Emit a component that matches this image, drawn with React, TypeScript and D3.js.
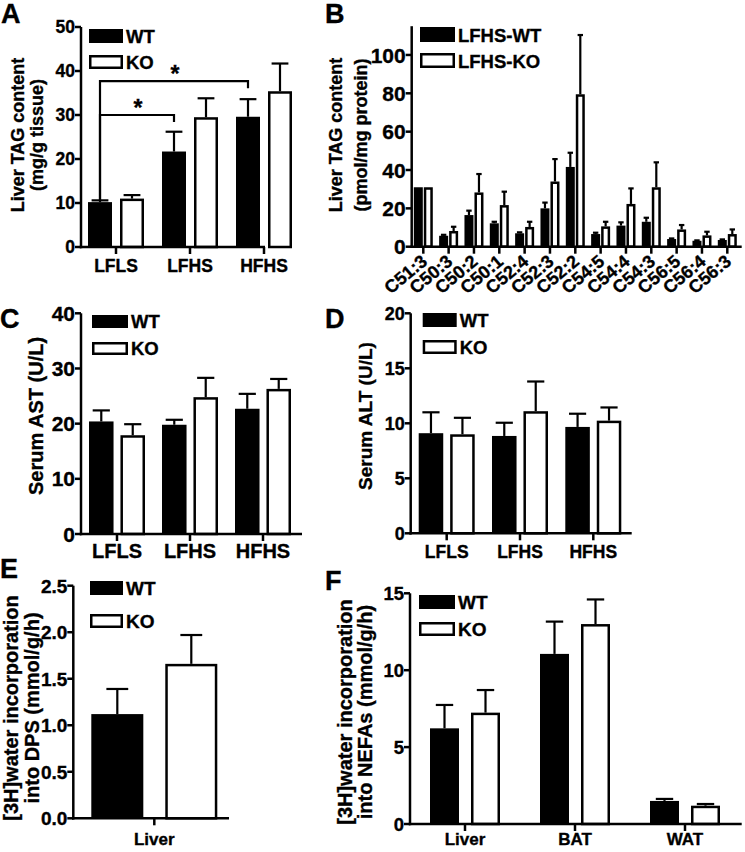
import React from 'react';
import * as d3 from 'd3';

const FONT = '"Liberation Sans", Arial, Helvetica, sans-serif';

// ---------- Data ----------
const dietGroups = ['LFLS', 'LFHS', 'HFHS'];

// A: Liver TAG content (mg/g tissue)
const tagWT = [10.2, 21.7, 29.6];
const tagWTErr = [0.4, 4.5, 4.0];
const tagKO = [11.0, 29.5, 35.4];
const tagKOErr = [0.8, 4.3, 6.3];
const tagBrackets = [
  { from: 'LFLS', to: 'LFHS', level: 30.0, label: '*' },
  { from: 'LFLS', to: 'HFHS', level: 37.7, label: '*' },
];

// B: Liver TAG species (pmol/mg protein)
const tagSpecies = ['C51:3', 'C50:3', 'C50:2', 'C50:1', 'C52:4', 'C52:3', 'C52:2', 'C54:5', 'C54:4', 'C54:3', 'C56:5', 'C56:4', 'C56:3'];
const speciesWT = [31, 5.7, 16.5, 12.2, 7.0, 20.0, 41.6, 6.6, 11.0, 13.0, 4.0, 3.1, 3.5];
const speciesWTErr = [0, 0.5, 2.3, 0.8, 0.5, 3.0, 7.4, 0.7, 1.7, 2.1, 0.3, 0.2, 0.3];
const speciesKO = [31, 8.2, 28.3, 21.7, 10.3, 34.0, 79.5, 10.6, 22.3, 31.0, 9.0, 5.9, 6.6];
const speciesKOErr = [0, 2.2, 9.6, 7.0, 2.7, 11.7, 30.9, 2.4, 8.1, 13.0, 2.3, 1.9, 2.4];

// C: Serum AST (U/L)
const astWT = [20.4, 19.8, 22.7];
const astWTErr = [2.0, 0.9, 2.7];
const astKO = [17.9, 24.8, 26.3];
const astKOErr = [2.0, 3.5, 1.8];

// D: Serum ALT (U/L)
const altWT = [9.1, 8.85, 9.67];
const altWTErr = [1.9, 1.2, 1.2];
const altKO = [9.0, 11.1, 10.24];
const altKOErr = [1.5, 2.7, 1.2];

// E: [3H]water into DPS
const dpsTissue = ['Liver'];
const dpsWT = [1.12];
const dpsWTErr = [0.27];
const dpsKO = [1.66];
const dpsKOErr = [0.31];

// F: [3H]water into NEFAs
const nefaTissues = ['Liver', 'BAT', 'WAT'];
const nefaWT = [6.22, 11.06, 1.5];
const nefaWTErr = [1.52, 2.1, 0.13];
const nefaKO = [7.24, 13.0, 1.19];
const nefaKOErr = [1.47, 1.6, 0.11];

const seriesKeys = ['WT', 'KO'];

type Legend = { x: number; y1: number; y2: number; w: number; h: number; labels: string[]; fs: number };
type Cfg = {
  letter: string; letterX: number; letterY: number;
  cats: string[]; wt: number[]; wtErr: number[]; ko: number[]; koErr: number[];
  yDomain: [number, number]; yRange: [number, number]; yTickCount: number; yFmt: string;
  axisX: number; xEnd: number; catRange: [number, number]; inner: [number, number]; innerPad: number;
  tickFs: number; xFs: number; xLabelDy: number; rotate?: boolean;
  titles: string[]; titleXs: number[]; titleY: number; titleFs: number;
  legend: Legend; capFrac: number;
  brackets?: { from: string; to: string; level: number; label: string }[];
};

const SW = 2.5;

function Panel({ cfg }: { cfg: Cfg }) {
  const y = d3.scaleLinear().domain(cfg.yDomain).range(cfg.yRange);
  const xc = d3.scalePoint<string>().domain(cfg.cats).range(cfg.catRange);
  const inner = d3.scaleBand<string>().domain(seriesKeys).range(cfg.inner).paddingInner(cfg.innerPad);
  const bw = inner.bandwidth();
  const y0 = y(0);
  const fmt = d3.format(cfg.yFmt);
  const ticks = y.ticks(cfg.yTickCount);
  const cap = bw * cfg.capFrac;

  const bars: any[] = [];
  cfg.cats.forEach((c, i) => {
    bars.push({ key: 'WT', cat: c, v: cfg.wt[i], e: cfg.wtErr[i] });
    bars.push({ key: 'KO', cat: c, v: cfg.ko[i], e: cfg.koErr[i] });
  });

  const wtCenter = (c: string) => (xc(c) as number) + (inner('WT') as number) + bw / 2;

  return (
    <g fontFamily={FONT} fontWeight="bold">
      <text x={cfg.letterX} y={cfg.letterY} fontSize={27}>{cfg.letter}</text>
      {/* y title */}
      {cfg.titles.map((t, i) => (
        <text key={t} transform={`translate(${cfg.titleXs[i]},${cfg.titleY}) rotate(-90)`} textAnchor="middle" fontSize={cfg.titleFs}>{t}</text>
      ))}
      {/* error bars */}
      {bars.map((b, i) => {
        if (!b.e) return null;
        const cx = (xc(b.cat) as number) + (inner(b.key) as number) + bw / 2;
        return (
          <g key={'e' + i} stroke="#000" strokeWidth={2.2}>
            <line x1={cx} x2={cx} y1={y(b.v)} y2={y(b.v + b.e)} />
            <line x1={cx - cap / 2} x2={cx + cap / 2} y1={y(b.v + b.e)} y2={y(b.v + b.e)} />
          </g>
        );
      })}
      {/* bars */}
      {bars.map((b, i) => {
        const x = (xc(b.cat) as number) + (inner(b.key) as number);
        if (b.key === 'WT') {
          return <rect key={'b' + i} x={x} y={y(b.v)} width={bw} height={y0 - y(b.v)} fill="#000" stroke="none" />;
        }
        return (
          <rect key={'b' + i} x={x + SW / 2} y={y(b.v) + SW / 2} width={bw - SW} height={y0 - y(b.v) - SW / 2}
            fill="#fff" stroke="#000" strokeWidth={SW} />
        );
      })}
      {/* brackets */}
      {(cfg.brackets || []).map((br, i) => {
        const x1 = wtCenter(br.from);
        const x2 = wtCenter(br.to);
        const fi = cfg.cats.indexOf(br.from);
        const yl = y(br.level);
        const yLeft = y(cfg.wt[fi] + cfg.wtErr[fi]);
        const yRight = y(br.level - 1.6);
        return (
          <g key={'br' + i}>
            <path d={`M${x1},${yLeft}V${yl}H${x2}V${yRight}`} fill="none" stroke="#000" strokeWidth={2.2} />
            <text x={(x1 + x2) / 2 + 1} y={yl + 1} textAnchor="middle" fontSize={23}>{br.label}</text>
          </g>
        );
      })}
      {/* y axis */}
      <line x1={cfg.axisX} x2={cfg.axisX} y1={y0 + SW / 2} y2={cfg.yRange[1]} stroke="#000" strokeWidth={SW} />
      {ticks.map((t) => (
        <g key={'yt' + t}>
          <line x1={cfg.axisX - 6} x2={cfg.axisX} y1={y(t)} y2={y(t)} stroke="#000" strokeWidth={SW} />
          <text x={cfg.axisX - 6} y={y(t)} dy="0.36em" textAnchor="end" fontSize={cfg.tickFs}>{fmt(t)}</text>
        </g>
      ))}
      {/* x axis */}
      <line x1={cfg.axisX - SW / 2} x2={cfg.xEnd} y1={y0} y2={y0} stroke="#000" strokeWidth={SW} />
      {cfg.cats.map((c) => {
        const cx = xc(c) as number;
        return (
          <g key={'xt' + c}>
            <line x1={cx} x2={cx} y1={y0} y2={y0 + 7} stroke="#000" strokeWidth={SW} />
            {cfg.rotate ? (
              <text transform={`translate(${cx + 5},${y0 + 16.5}) rotate(-40)`} textAnchor="end" fontSize={cfg.xFs}>{c}</text>
            ) : (
              <text x={cx} y={y0 + cfg.xLabelDy} textAnchor="middle" fontSize={cfg.xFs}>{c}</text>
            )}
          </g>
        );
      })}
      {/* legend */}
      <rect x={cfg.legend.x} y={cfg.legend.y1} width={cfg.legend.w} height={cfg.legend.h} fill="#000" stroke="none" />
      <rect x={cfg.legend.x + SW / 2} y={cfg.legend.y2 + SW / 2} width={cfg.legend.w - SW} height={cfg.legend.h - SW}
        fill="#fff" stroke="#000" strokeWidth={SW} />
      <text x={cfg.legend.x + cfg.legend.w + 3} y={cfg.legend.y1 + cfg.legend.h - 0.5} fontSize={cfg.legend.fs}>{cfg.legend.labels[0]}</text>
      <text x={cfg.legend.x + cfg.legend.w + 3} y={cfg.legend.y2 + cfg.legend.h - 0.5} fontSize={cfg.legend.fs}>{cfg.legend.labels[1]}</text>
    </g>
  );
}

const panels: Cfg[] = [
  {
    letter: 'A', letterX: 1, letterY: 23,
    cats: dietGroups, wt: tagWT, wtErr: tagWTErr, ko: tagKO, koErr: tagKOErr,
    yDomain: [0, 50], yRange: [247, 27], yTickCount: 5, yFmt: 'd',
    axisX: 81, xEnd: 265, catRange: [116, 264], inner: [-28, 28], innerPad: 0.25,
    tickFs: 17.5, xFs: 17.5, xLabelDy: 25,
    titles: ['Liver TAG content', '(mg/g tissue)'], titleXs: [24, 43], titleY: 135, titleFs: 18,
    legend: { x: 89, y1: 29, y2: 55, w: 34, h: 14, labels: ['WT', 'KO'], fs: 18.5 }, capFrac: 0.7,
    brackets: tagBrackets,
  },
  {
    letter: 'B', letterX: 325, letterY: 23,
    cats: tagSpecies, wt: speciesWT, wtErr: speciesWTErr, ko: speciesKO, koErr: speciesKOErr,
    yDomain: [0, 115], yRange: [246.7, 26.2], yTickCount: 5, yFmt: 'd',
    axisX: 411.7, xEnd: 741.7, catRange: [423.3, 727.3], inner: [-9.5, 9.5], innerPad: 0.1,
    tickFs: 21, xFs: 18, xLabelDy: 25, rotate: true,
    titles: ['Liver TAG content', '(pmol/mg protein)'], titleXs: [342, 367], titleY: 135, titleFs: 18,
    legend: { x: 420, y1: 27, y2: 53, w: 35, h: 15, labels: ['LFHS-WT', 'LFHS-KO'], fs: 18.5 }, capFrac: 0.6,
  },
  {
    letter: 'C', letterX: 0, letterY: 328,
    cats: dietGroups, wt: astWT, wtErr: astWTErr, ko: astKO, koErr: astKOErr,
    yDomain: [0, 40], yRange: [534, 313.3], yTickCount: 4, yFmt: 'd',
    axisX: 81, xEnd: 302, catRange: [117, 263], inner: [-28, 28], innerPad: 0.22,
    tickFs: 21, xFs: 20, xLabelDy: 24,
    titles: ['Serum AST (U/L)'], titleXs: [43], titleY: 416, titleFs: 20,
    legend: { x: 92, y1: 315, y2: 342, w: 36, h: 13, labels: ['WT', 'KO'], fs: 18.5 }, capFrac: 0.7,
  },
  {
    letter: 'D', letterX: 325, letterY: 328,
    cats: dietGroups, wt: altWT, wtErr: altWTErr, ko: altKO, koErr: altKOErr,
    yDomain: [0, 20], yRange: [533.3, 313.3], yTickCount: 4, yFmt: 'd',
    axisX: 410.7, xEnd: 631.7, catRange: [446.7, 593.3], inner: [-28, 28], innerPad: 0.22,
    tickFs: 18, xFs: 17.5, xLabelDy: 25,
    titles: ['Serum ALT (U/L)'], titleXs: [372], titleY: 416, titleFs: 19,
    legend: { x: 422.7, y1: 313, y2: 340, w: 34, h: 14, labels: ['WT', 'KO'], fs: 18.5 }, capFrac: 0.7,
  },
  {
    letter: 'E', letterX: 0, letterY: 578,
    cats: dpsTissue, wt: dpsWT, wtErr: dpsWTErr, ko: dpsKO, koErr: dpsKOErr,
    yDomain: [0, 2.5], yRange: [818.3, 585.7], yTickCount: 5, yFmt: '.1f',
    axisX: 73.3, xEnd: 229, catRange: [154.3, 154.3], inner: [-63, 63], innerPad: 0.297,
    tickFs: 19, xFs: 17, xLabelDy: 27,
    titles: ['[3H]water incorporation', 'into DPS (mmol/g/h)'], titleXs: [18, 39], titleY: 708, titleFs: 20,
    legend: { x: 90, y1: 581, y2: 614, w: 33, h: 14, labels: ['WT', 'KO'], fs: 19 }, capFrac: 0.42,
  },
  {
    letter: 'F', letterX: 325, letterY: 590,
    cats: nefaTissues, wt: nefaWT, wtErr: nefaWTErr, ko: nefaKO, koErr: nefaKOErr,
    yDomain: [0, 15], yRange: [824, 593.3], yTickCount: 3, yFmt: 'd',
    axisX: 410, xEnd: 741.7, catRange: [465, 685], inner: [-35, 35], innerPad: 0.293,
    tickFs: 18.5, xFs: 17, xLabelDy: 21,
    titles: ['[3H]water incorporation', 'into NEFAs (mmol/g/h)'], titleXs: [352, 372], titleY: 712, titleFs: 20,
    legend: { x: 419, y1: 595, y2: 622, w: 36, h: 14, labels: ['WT', 'KO'], fs: 19 }, capFrac: 0.6,
  },
];

export default function App() {
  return (
    <svg width={745} height={852} viewBox="0 0 745 852"
      style={{ position: 'absolute', left: 0, top: 0, background: '#fff' }}>
      <style>{'text{stroke:#000;stroke-width:0.35px}'}</style>
      <rect x={0} y={0} width={745} height={852} fill="#fff" />
      {panels.map((p) => <Panel key={p.letter} cfg={p} />)}
    </svg>
  );
}
